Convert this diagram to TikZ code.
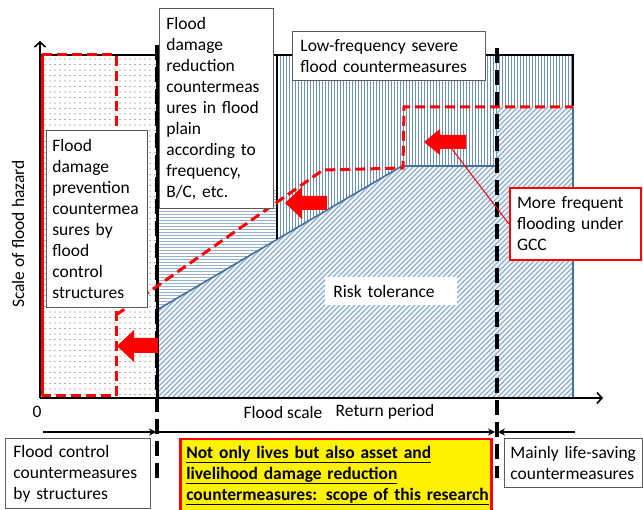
\documentclass[tikz,border=0pt]{standalone}
\usepackage{fontspec}
\setmainfont{Carlito}
\usetikzlibrary{patterns,arrows.meta}
\hyphenpenalty=10000
\exhyphenpenalty=10000
\definecolor{sblue}{RGB}{65,113,156}
\definecolor{vcol}{RGB}{110,145,186}
\definecolor{hcol}{RGB}{150,176,206}
\definecolor{dcol}{RGB}{140,172,210}
\definecolor{xfillc}{RGB}{246,249,253}
\definecolor{boxgray}{RGB}{90,90,90}
\pgfdeclarepatternformonly{sdots}{\pgfqpoint{-1pt}{-1pt}}{\pgfqpoint{5pt}{6pt}}{\pgfqpoint{5pt}{5.5pt}}{\pgfpathcircle{\pgfqpoint{0pt}{0pt}}{0.55pt}\pgfusepath{fill}}
\pgfdeclarepatternformonly{vlines}{\pgfqpoint{-1pt}{-1pt}}{\pgfqpoint{4pt}{4pt}}{\pgfqpoint{3pt}{3pt}}{\pgfsetlinewidth{0.85pt}\pgfpathmoveto{\pgfqpoint{1.5pt}{-1pt}}\pgfpathlineto{\pgfqpoint{1.5pt}{4pt}}\pgfusepath{stroke}}
\pgfdeclarepatternformonly{hlines}{\pgfqpoint{-1pt}{-1pt}}{\pgfqpoint{4pt}{4pt}}{\pgfqpoint{3pt}{3pt}}{\pgfsetlinewidth{0.7pt}\pgfpathmoveto{\pgfqpoint{-1pt}{1.5pt}}\pgfpathlineto{\pgfqpoint{4pt}{1.5pt}}\pgfusepath{stroke}}
\pgfdeclarepatternformonly{dlines}{\pgfqpoint{-1pt}{-1pt}}{\pgfqpoint{6pt}{6pt}}{\pgfqpoint{5pt}{5pt}}{\pgfsetlinewidth{1.1pt}\pgfpathmoveto{\pgfqpoint{0pt}{0pt}}\pgfpathlineto{\pgfqpoint{5.1pt}{5.1pt}}\pgfusepath{stroke}}
\tikzset{
  txt/.style={font=\fontsize{17.5}{21}\selectfont},
  tbox/.style={txt, draw=boxgray, line width=0.8pt, fill=white, anchor=north west, align=left, inner ysep=0pt},
  redd/.style={red, line width=3pt, dash pattern=on 10pt off 5pt},
  blk/.style={line width=2.5pt},
  bdash/.style={line width=3.5pt, dash pattern=on 15pt off 7pt},
  bline/.style={sblue, line width=1.6pt},
  axis/.style={line width=2.5pt, -{Straight Barb[length=5pt,width=11pt,line width=1.6pt]}},
  span/.style={line width=1.8pt},
  tipr/.style={-{Stealth[length=7pt,width=7pt]}},
  tipl/.style={{Stealth[length=7pt,width=7pt]}-},
}
\begin{document}
\begin{tikzpicture}[x=1pt,y=-1pt]
\useasboundingbox (0,0) rectangle (643,510);
% shaded regions
\fill[pattern=sdots, pattern color=black!60] (40,55) rectangle (157,398);
\fill[pattern=hlines, pattern color=hcol] (157,190) -- (277,190) -- (277,239) -- (157,310) -- cycle;
\fill[pattern=vlines, pattern color=vcol] (277,55) -- (573,55) -- (573,107) -- (497,107) -- (497,166) -- (402,166) -- (277,239) -- cycle;
\fill[xfillc] (157,310) -- (402,166) -- (497,166) -- (497,107) -- (573,107) -- (573,398) -- (157,398) -- cycle;
\fill[pattern=dlines, pattern color=dcol] (157,310) -- (402,166) -- (497,166) -- (497,107) -- (573,107) -- (573,398) -- (157,398) -- cycle;
% blue outlines
\draw[bline] (157,310) -- (402,166) -- (497,166);
\draw[bline] (573,107) -- (573,398);
% black frame lines
\draw[blk] (40,55) -- (573,55) -- (573,106);
\draw[line width=2pt] (277,55) -- (277,239);
\draw[line width=3pt] (157,55) -- (157,398);
\draw[bdash] (157,45) -- (157,478);
\draw[bdash] (497,48) -- (497,478);
% red dashed boundaries
\draw[red, line width=3pt] (42,396) -- (42,55);
\draw[redd] (42,55) -- (116,55) -- (116,396) -- (42,396);
\draw[redd] (116,315) -- (323,170) -- (403,168) -- (404,107) -- (573,107);
% red block arrows
\fill[red] (117,346) -- (134,330) -- (134,338) -- (158,338) -- (158,353) -- (134,353) -- (134,362) -- cycle;
\fill[red] (285,203) -- (302,187) -- (302,196) -- (327,196) -- (327,210) -- (302,210) -- (302,219) -- cycle;
\fill[red] (424,142) -- (440,129) -- (440,135) -- (466,135) -- (466,149) -- (440,149) -- (440,155) -- cycle;
\coordinate (arr3) at (452,149);
% axes
\coordinate (O) at (40,398);
\coordinate (Ytop) at (40,41);
\coordinate (Xend) at (603,398);
\draw[axis] (O) -- (Ytop);
\draw[axis] (O) -- (Xend);
% text boxes
\node[tbox, minimum width=101pt, minimum height=177pt, text width=89pt, inner xsep=6pt] (A) at (46,130)
  {Flood\\damage\\prevention\\countermea\\sures by\\flood\\control\\structures};
\node[tbox, minimum width=114pt, minimum height=200pt, text width=100pt, inner xsep=7pt] (B) at (159,8)
  {Flood\\damage\\reduction\\countermeas\\ures in flood\\plain\\according to\\frequency,\\B/C, etc.};
\node[tbox, minimum width=193pt, minimum height=49pt, text width=177pt, inner xsep=8pt] (C) at (292,31)
  {Low-frequency severe\\flood countermeasures};
\node[tbox, draw=red, line width=2pt, minimum width=131pt, minimum height=72pt, text width=117pt, inner xsep=7pt] (D) at (509,187)
  {More frequent\\flooding under\\GCC};
\draw[red, line width=1pt] (arr3) -- (D.west);
\node[tbox, draw=none, minimum width=132pt, minimum height=28pt, text width=116pt, inner xsep=8pt] (R) at (325,277)
  {Risk tolerance};
% axis labels
\node[txt] (zero) at (37,412) {0};
\node[txt] (fs) at (283,412) {Flood scale};
\node[txt] (rp) at (385,412) {Return period};
\node[txt, rotate=90] (ylab) at (18,234) {Scale of flood hazard};
% bottom spans
\coordinate (s1a) at (43,432);
\coordinate (s1b) at (156,432);
\coordinate (s2a) at (159,432);
\coordinate (s2b) at (495,432);
\coordinate (s3a) at (498,432);
\coordinate (s3b) at (575,432);
\draw[span, tipr] (s1a) -- (s1b);
\draw[span, tipl, tipr] (s2a) -- (s2b);
\draw[span, tipl] (s3a) -- (s3b);
% bottom boxes
\node[tbox, minimum width=145pt, minimum height=70pt, text width=129pt, inner xsep=8pt] (E) at (5,438)
  {Flood control\\countermeasures\\by structures};
\node[tbox, draw=red, fill=yellow, line width=2.5pt, minimum width=311pt, minimum height=72pt, text width=299pt, inner xsep=6pt, font=\fontsize{17.5}{21}\selectfont\bfseries] (F) at (179,438)
  {\underline{Not only lives but also asset and}\\\underline{livelihood damage reduction}\\\underline{countermeasures: scope of this research}};
\node[tbox, minimum width=138pt, minimum height=49pt, text width=126pt, inner xsep=6pt] (G) at (504,438)
  {Mainly life-saving\\countermeasures};
\end{tikzpicture}
\end{document}
